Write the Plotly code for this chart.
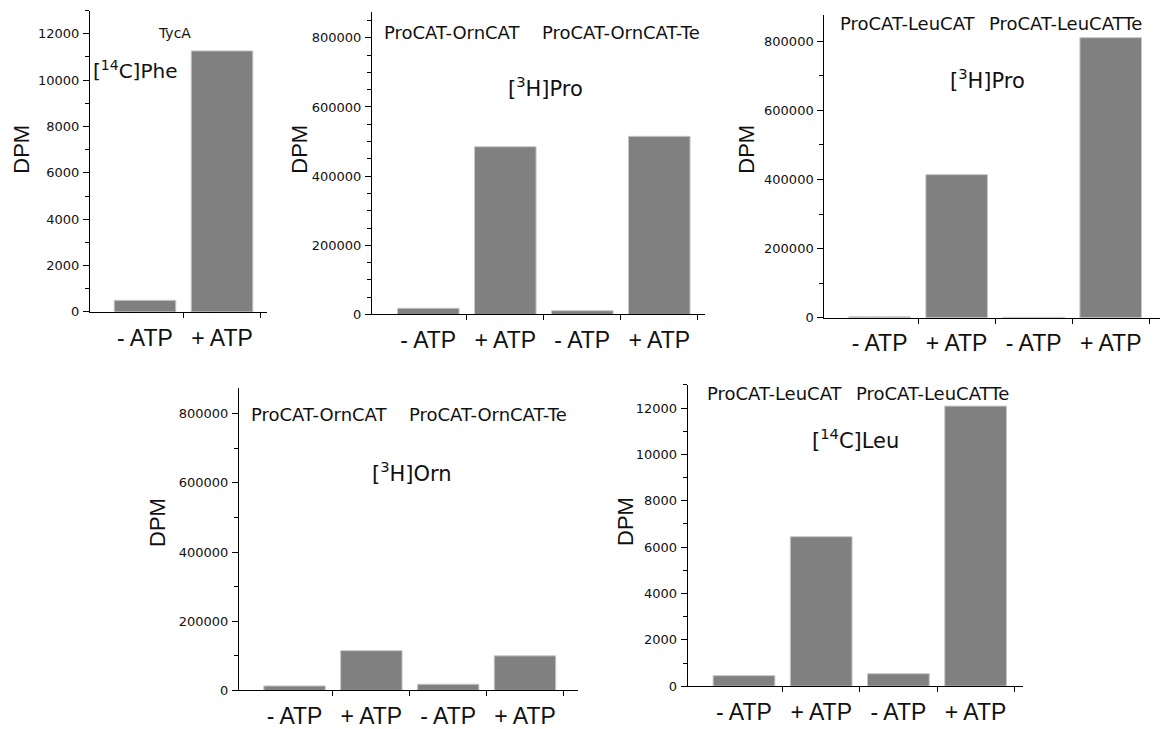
import plotly.graph_objects as go

W, H = 1161, 729

# ---------------- data ----------------
labels_2 = ["- ATP", "+ ATP"]
labels_4 = ["- ATP", "+ ATP", "- ATP", "+ ATP"]

tyca_phe = [500, 11260]                       # TycA, [14C]Phe
orn_pro = [18000, 485000, 11000, 515000]      # ProCAT-OrnCAT / -Te, [3H]Pro
leu_pro = [3000, 414000, 1500, 810000]        # ProCAT-LeuCAT / Te, [3H]Pro
orn_orn = [13000, 115000, 18000, 100000]      # ProCAT-OrnCAT / -Te, [3H]Orn
leu_leu = [455, 6450, 540, 12085]             # ProCAT-LeuCAT / Te, [14C]Leu

BAR = "#808080"
EDGE = "#c8c8c8"
TICKFONT = dict(family="DejaVu Sans", size=13, color="#111")
XLABFONT = dict(family="Liberation Sans", size=23, color="#111")


def fx(px):
    return px / W


def fy(py):
    return 1 - py / H


# panel specs: (values, labels, x-domain px, y-domain px (top,bottom), xrange, ytop, dtick, minor dtick)
panels = [
    (tyca_phe, labels_2, (90, 267), (10.7, 316.7), (-0.714, 1.584), 13000, 2000, 1000),
    (orn_pro, labels_4, (372, 705), (12, 319.3), (-0.731, 3.594), 875000, 200000, 50000),
    (leu_pro, labels_4, (824.3, 1160), (15.4, 322.7), (-0.718, 3.64), 875000, 200000, 100000),
    (orn_orn, labels_4, (239, 578), (393.7, 701), (-0.723, 3.69), 875000, 200000, 100000),
    (leu_leu, labels_4, (687.7, 1022.7), (390.8, 696.7), (-0.729, 3.61), 13000, 2000, 1000),
]

fig = go.Figure()
layout = dict(
    width=W, height=H,
    margin=dict(l=0, r=0, t=0, b=0),
    paper_bgcolor="white", plot_bgcolor="white",
    showlegend=False,
)

for i, (vals, labs, xd, yd, xr, ytop, dt, mdt) in enumerate(panels, start=1):
    xs = list(range(len(vals)))
    sfx = "" if i == 1 else str(i)
    fig.add_trace(go.Bar(
        x=xs, y=vals, width=0.8,
        marker=dict(color=BAR, line=dict(color=EDGE, width=1)),
        xaxis="x" + sfx, yaxis="y" + sfx, hoverinfo="y",
    ))
    layout["xaxis" + sfx] = dict(
        domain=[fx(xd[0]), fx(xd[1])], anchor="y" + sfx,
        range=list(xr), showgrid=False, zeroline=False,
        showline=True, linecolor="black", linewidth=1,
        tickmode="array", tickvals=xs, ticktext=labs, ticks="",
        tickfont=XLABFONT, ticklabelstandoff=5,
        minor=dict(tickmode="array", tickvals=[k + 0.5 for k in xs],
                   ticks="outside", ticklen=5, tickcolor="black", tickwidth=1),
        fixedrange=True,
    )
    layout["yaxis" + sfx] = dict(
        domain=[fy(yd[1]), fy(yd[0])], anchor="x" + sfx,
        range=[0, ytop], showgrid=False, zeroline=False,
        showline=True, linecolor="black", linewidth=1,
        tickmode="linear", tick0=0, dtick=dt, tickformat="d",
        ticks="outside", ticklen=6, tickcolor="black", tickwidth=1,
        tickfont=TICKFONT, ticklabelstandoff=1,
        minor=dict(dtick=mdt, tick0=0, ticks="outside", ticklen=4,
                   tickcolor="black", tickwidth=1),
        fixedrange=True,
    )

fig.update_layout(**layout)

# ---------------- texts ----------------
def txt(s, x, y, size=18, family="DejaVu Sans", angle=0):
    fig.add_annotation(text=s, x=fx(x), y=fy(y), xref="paper", yref="paper",
                       showarrow=False, xanchor="center", yanchor="middle",
                       textangle=angle,
                       font=dict(family=family, size=size, color="#111"))

# DPM axis titles
for (x, y) in [(22, 152), (300, 152), (747, 152), (157, 530), (625, 530)]:
    txt("DPM", x, y, size=22, family="Liberation Sans", angle=-90)

# panel 1
txt("TycA", 175, 34, size=14)
txt("[<sup>14</sup>C]Phe", 135, 71, size=20)
# panel 2
txt("ProCAT-OrnCAT", 452, 33)
txt("ProCAT-OrnCAT-Te", 621, 33)
txt("[<sup>3</sup>H]Pro", 545, 88, size=21)
# panel 3
txt("ProCAT-LeuCAT", 908, 24)
txt("ProCAT-LeuCATTe", 1065, 24)
txt("[<sup>3</sup>H]Pro", 987, 80, size=21)
# panel 4
txt("ProCAT-OrnCAT", 319, 421)
txt("ProCAT-OrnCAT-Te", 488, 421)
txt("[<sup>3</sup>H]Orn", 412, 479, size=21)
# panel 5
txt("ProCAT-LeuCAT", 775, 400)
txt("ProCAT-LeuCATTe", 932, 400)
txt("[<sup>14</sup>C]Leu", 855, 446, size=21)

fig.write_html("out.html")
